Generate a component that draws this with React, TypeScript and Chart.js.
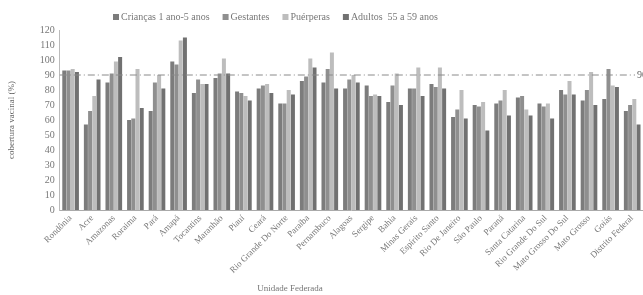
import React, { useEffect, useRef } from "react";
import { Chart, registerables } from "chart.js";

Chart.register(...registerables);

const states = [
  "Rondônia", "Acre", "Amazonas", "Roraima", "Pará", "Amapá", "Tocantins", "Maranhão", "Piauí",
  "Ceará", "Rio Grande Do Norte", "Paraíba", "Pernambuco", "Alagoas", "Sergipe", "Bahia",
  "Minas Gerais", "Espírito Santo", "Rio De Janeiro", "São Paulo", "Paraná", "Santa Catarina",
  "Rio Grande Do Sul", "Mato Grosso Do Sul", "Mato Grosso", "Goiás", "Distrito Federal",
];

const criancas = [93, 57, 85, 60, 66, 99, 78, 88, 79, 81, 71, 86, 85, 81, 83, 72, 81, 84, 62, 70, 71, 75, 71, 80, 73, 74, 66];
const gestantes = [93, 66, 91, 61, 85, 97, 87, 91, 78, 83, 71, 89, 94, 87, 76, 83, 81, 82, 67, 69, 73, 76, 69, 77, 80, 94, 70];
const puerperas = [94, 76, 99, 94, 90, 113, 84, 101, 76, 84, 80, 101, 105, 90, 77, 91, 95, 95, 80, 72, 80, 67, 71, 86, 92, 83, 74];
const adultos = [92, 87, 102, 68, 81, 115, 84, 91, 73, 78, 77, 95, 81, 85, 76, 70, 76, 81, 61, 53, 63, 63, 61, 77, 70, 82, 57];

const seriesLabels = ["Crianças 1 ano-5 anos", "Gestantes", "Puérperas", "Adultos  55 a 59 anos"];
const seriesColors = ["#7c7c7c", "#8f8f8f", "#bdbdbd", "#717171"];
const yTicks = [0, 10, 20, 30, 40, 50, 60, 70, 80, 90, 100, 110, 120];
const targetValue = 90;

const FONT = "'Liberation Serif', 'DejaVu Serif', serif";

export default function App() {
  const ref = useRef<HTMLCanvasElement | null>(null);

  useEffect(() => {
    if (!ref.current) return;
    const values = [criancas, gestantes, puerperas, adultos];

    const overlay = {
      id: "overlay",
      afterDatasetsDraw(chart: any) {
        const { ctx, chartArea, scales } = chart;
        const y = scales.y.getPixelForValue(targetValue);
        ctx.save();
        ctx.strokeStyle = "#8a8a8a";
        ctx.lineWidth = 1;
        ctx.setLineDash([7, 3, 1, 3]);
        ctx.beginPath();
        ctx.moveTo(chartArea.left, y);
        ctx.lineTo(chartArea.right - 8, y);
        ctx.stroke();
        ctx.setLineDash([]);
        ctx.fillStyle = "#666";
        ctx.font = `10px ${FONT}`;
        ctx.textBaseline = "middle";
        ctx.textAlign = "left";
        ctx.fillText(String(targetValue), chartArea.right - 6, y);
        ctx.restore();
      },
      afterDraw(chart: any) {
        const { ctx } = chart;
        ctx.save();
        ctx.font = `10px ${FONT}`;
        ctx.textBaseline = "middle";
        let x = 113;
        const ly = 17;
        seriesLabels.forEach((lab, i) => {
          ctx.fillStyle = seriesColors[i];
          ctx.fillRect(x, ly - 3, 6, 6);
          ctx.fillStyle = "#777";
          ctx.textAlign = "left";
          ctx.fillText(lab, x + 8, ly);
          x += 8 + ctx.measureText(lab).width + 13;
        });
        ctx.textAlign = "center";
        ctx.fillStyle = "#777";
        ctx.font = `9px ${FONT}`;
        ctx.fillText("Unidade Federada", 290, 289);
        ctx.restore();
      },
    };

    const chart = new Chart(ref.current, {
      type: "bar",
      data: {
        labels: states,
        datasets: values.map((v, i) => ({
          label: seriesLabels[i],
          data: v,
          backgroundColor: seriesColors[i],
          borderWidth: 0,
          categoryPercentage: 0.78,
          barPercentage: 0.95,
        })),
      },
      options: {
        animation: false,
        responsive: true,
        maintainAspectRatio: false,
        layout: { padding: { top: 30, right: 0, left: 6, bottom: 0 } },
        plugins: { legend: { display: false }, tooltip: { enabled: false } },
        scales: {
          x: {
            grid: { display: false, drawTicks: true, tickLength: 3 },
            border: { display: true, color: "#aaa", dash: [1, 2] },
            ticks: {
              color: "#777",
              font: { family: FONT, size: 9 },
              minRotation: 45,
              maxRotation: 45,
              autoSkip: false,
              padding: 0,
            },
            afterFit(scale: any) {
              scale.height = 85;
            },
          },
          y: {
            min: 0,
            max: 120,
            afterBuildTicks(scale: any) {
              scale.ticks = yTicks.map((v) => ({ value: v }));
            },
            grid: { display: false, drawTicks: true, tickLength: 2 },
            border: { display: true, color: "#bbb", dash: [1, 2] },
            ticks: { color: "#777", font: { family: FONT, size: 10 }, padding: 3 },
            title: {
              display: true,
              text: "cobertura vacinal (%)",
              color: "#666",
              font: { family: FONT, size: 9 },
              padding: { top: 0, bottom: 20 },
            },
          },
        },
      },
      plugins: [overlay],
    });
    return () => chart.destroy();
  }, []);

  return (
    <div style={{ position: "fixed", left: 0, top: 0, width: 643, height: 295, background: "#fff" }}>
      <canvas ref={ref} />
    </div>
  );
}
